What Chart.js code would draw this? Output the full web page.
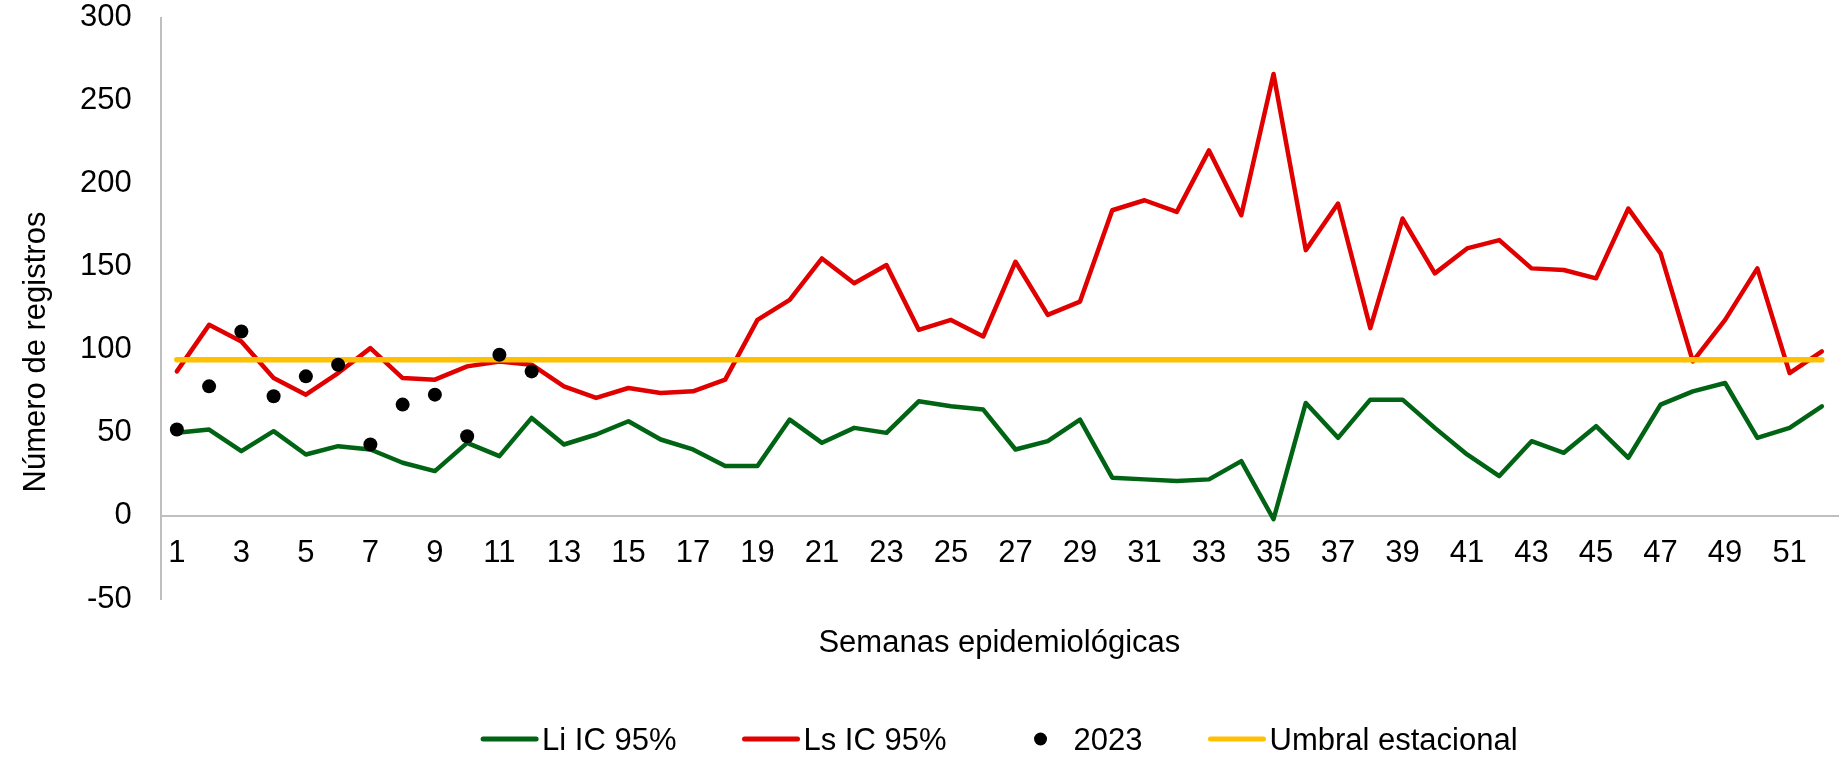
<!DOCTYPE html>
<html lang="es">
<head>
  <meta charset="UTF-8">
  <title>Canal endémico</title>
  <script src="https://cdn.jsdelivr.net/npm/chart.js"></script>
  <style>
    body { margin: 0; background: #fff; }
    #wrap { width: 1845px; height: 765px; }
  </style>
</head>
<body>
  <div id="wrap"><canvas id="myChart"></canvas></div>

  <script>
    // Semanas epidemiológicas 1..52
    const semanas = [];
    for (let s = 1; s <= 52; s++) semanas.push(String(s));

    // Límite inferior IC 95%
    const liIC = [50, 52, 39, 51, 37, 42, 40, 32, 27, 44, 36, 59, 43, 49, 57, 46, 40, 30, 30, 58,
                  44, 53, 50, 69, 66, 64, 40, 45, 58, 23, 22, 21, 22, 33, -2, 68, 47, 70, 70, 53,
                  37, 24, 45, 38, 54, 35, 67, 75, 80, 47, 53, 66];

    // Límite superior IC 95%
    const lsIC = [87, 115, 105, 83, 73, 86, 101, 83, 82, 90, 93, 91, 78, 71, 77, 74, 75, 82, 118, 130,
                  155, 140, 151, 112, 118, 108, 153, 121, 129, 184, 190, 183, 220, 181, 266, 160, 188, 113, 179, 146,
                  161, 166, 149, 148, 143, 185, 158, 93, 118, 149, 86, 99];

    // Casos 2023 (semanas 1 a 12)
    const casos2023 = [52, 78, 111, 72, 84, 91, 43, 67, 73, 48, 97, 87];

    // Umbral estacional
    const umbral = [94, 94, 94, 94, 94, 94, 94, 94, 94, 94, 94, 94, 94, 94, 94, 94, 94, 94, 94, 94,
                    94, 94, 94, 94, 94, 94, 94, 94, 94, 94, 94, 94, 94, 94, 94, 94, 94, 94, 94, 94,
                    94, 94, 94, 94, 94, 94, 94, 94, 94, 94, 94, 94];

    const yTicks = [-50, 0, 50, 100, 150, 200, 250, 300];

    const FONT = "'Liberation Sans', Arial, sans-serif";
    Chart.defaults.font.family = FONT;
    Chart.defaults.color = '#000';

    // titles and legend drawn by hand, Excel-like placement
    const extras = {
      id: 'extras',
      afterDraw(chart) {
        const ctx = chart.ctx;
        const area = chart.chartArea;
        const cx = (area.left + area.right) / 2;
        ctx.save();
        ctx.fillStyle = '#000';
        ctx.font = '31px ' + FONT;
        ctx.textBaseline = 'alphabetic';

        // x title
        ctx.textAlign = 'center';
        ctx.fillText('Semanas epidemiológicas', cx, 652);

        // y title
        ctx.save();
        ctx.translate(45, 352);
        ctx.rotate(-Math.PI / 2);
        ctx.fillText('Número de registros', 0, 0);
        ctx.restore();

        // legend
        const items = chart.data.datasets.slice().sort((a, b) => a.legendIndex - b.legendIndex);
        const symW = 57, gap = 4, spacing = 66;
        ctx.textAlign = 'left';
        let total = 0;
        items.forEach((d, i) => {
          total += symW + gap + ctx.measureText(d.label).width + (i < items.length - 1 ? spacing : 0);
        });
        let x = cx - total / 2;
        const y = 739;
        items.forEach(d => {
          if (d.showLine === false) {
            ctx.beginPath();
            ctx.fillStyle = d.pointBackgroundColor;
            ctx.arc(x + 28, y, 6.5, 0, Math.PI * 2);
            ctx.fill();
          } else {
            ctx.beginPath();
            ctx.strokeStyle = d.borderColor;
            ctx.lineWidth = 5;
            ctx.lineCap = 'round';
            ctx.moveTo(x + 2, y);
            ctx.lineTo(x + symW - 2, y);
            ctx.stroke();
          }
          ctx.fillStyle = '#000';
          ctx.fillText(d.label, x + symW + gap, y + 11);
          x += symW + gap + ctx.measureText(d.label).width + spacing;
        });
        ctx.restore();
      }
    };

    const ctx = document.getElementById('myChart').getContext('2d');

    new Chart(ctx, {
      type: 'line',
      data: {
        labels: semanas,
        datasets: [
          {
            label: 'Li IC 95%',
            data: liIC,
            borderColor: '#006414',
            borderWidth: 4.5,
            pointRadius: 0,
            borderJoinStyle: 'round',
            borderCapStyle: 'round',
            order: 3,
            legendIndex: 0
          },
          {
            label: 'Ls IC 95%',
            data: lsIC,
            borderColor: '#E00000',
            borderWidth: 4.5,
            pointRadius: 0,
            borderJoinStyle: 'round',
            borderCapStyle: 'round',
            order: 2,
            legendIndex: 1
          },
          {
            label: '2023',
            data: casos2023,
            showLine: false,
            pointRadius: 7,
            pointBackgroundColor: '#000',
            pointBorderWidth: 0,
            borderColor: '#000',
            order: 0,
            legendIndex: 2
          },
          {
            label: 'Umbral estacional',
            data: umbral,
            borderColor: '#FFC000',
            borderWidth: 5.5,
            pointRadius: 0,
            borderCapStyle: 'round',
            order: 1,
            legendIndex: 3
          }
        ]
      },
      options: {
        responsive: true,
        maintainAspectRatio: false,
        animation: false,
        layout: {
          padding: { left: 51, right: 6, top: 0, bottom: 166 }
        },
        plugins: {
          legend: { display: false },
          tooltip: { enabled: false }
        },
        scales: {
          x: {
            type: 'category',
            offset: true,
            position: { y: 0 },
            grid: { display: false, drawTicks: false },
            border: { display: true, color: '#bfbfbf', width: 2 },
            afterFit: s => { s.paddingLeft = 0; s.paddingRight = 0; },
            ticks: {
              autoSkip: false,
              maxRotation: 0,
              padding: 20,
              font: { size: 31, lineHeight: 1.13 },
              color: '#000',
              callback: function (value, index) {
                return index % 2 === 0 ? this.getLabelForValue(value) : '';
              }
            }
          },
          y: {
            min: -50,
            max: 300,
            afterBuildTicks: axis => { axis.ticks = yTicks.map(v => ({ value: v })); },
            afterFit: s => { s.paddingTop = 17.5; s.paddingBottom = 17.5; },
            grid: { display: false, drawTicks: false },
            border: { display: true, color: '#bfbfbf', width: 2 },
            ticks: {
              padding: 29,
              font: { size: 31, lineHeight: 1.13 },
              color: '#000'
            }
          }
        }
      },
      plugins: [extras]
    });
  </script>
</body>
</html>
